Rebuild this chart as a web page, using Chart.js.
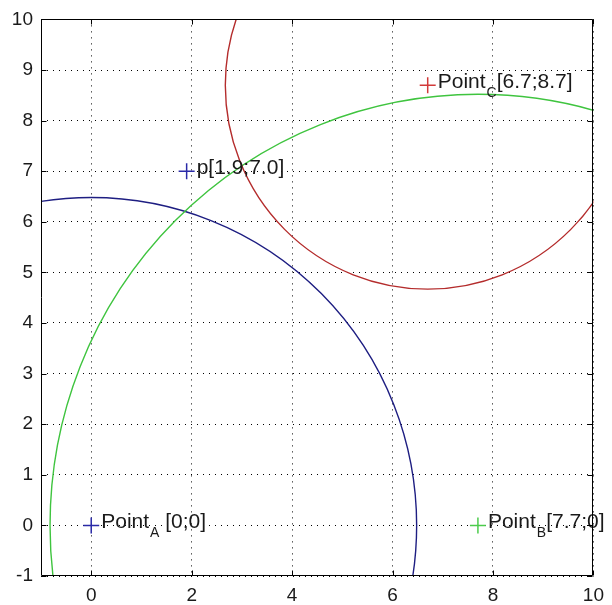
<!DOCTYPE html>
<html>
<head>
<meta charset="utf-8">
<script src="https://cdn.jsdelivr.net/npm/chart.js@4"></script>
<style>
html, body { margin: 0; padding: 0; background: #fff; }
</style>
</head>
<body>
<canvas id="chart" width="612" height="605"></canvas>
<script>
// tick labels
const xTicks = [0, 2, 4, 6, 8, 10];
const yTicks = [-1, 0, 1, 2, 3, 4, 5, 6, 7, 8, 9, 10];

// marked points
const pointX = [0, 7.7, 6.7, 1.9];
const pointY = [0, 0, 8.7, 7.0];
const pointMain = ['Point', 'Point', 'Point', 'p'];
const pointSub = ['A', 'B', 'C', ''];
const pointRest = [' [0;0]', '[7.7;0]', '[6.7;8.7]', '[1.9;7.0]'];
const pointColors = ['#2a2aa8', '#4ccc4c', '#d23a3a', '#2a2aa8'];

// range circles (centre + radius)
const circleX = [0, 7.7, 6.7];
const circleY = [0, 0, 8.7];
const circleR = [6.48, 8.52, 4.03];
const circleColors = ['#1e1e82', '#3fc43f', '#b42c2c'];

const labelFont = '21px "Liberation Sans", Arial, sans-serif';
const subFont = '14px "Liberation Sans", Arial, sans-serif';

const overlay = {
    id: 'overlay',
    beforeDatasetsDraw(chart) {
        const { ctx, chartArea: a, scales: { x, y } } = chart;
        ctx.save();
        ctx.beginPath();
        ctx.rect(a.left, a.top, a.right - a.left, a.bottom - a.top);
        ctx.clip();
        circleX.forEach((cx, i) => {
            const px = x.getPixelForValue(cx);
            const py = y.getPixelForValue(circleY[i]);
            const rx = Math.abs(x.getPixelForValue(cx + circleR[i]) - px);
            const ry = Math.abs(y.getPixelForValue(circleY[i] + circleR[i]) - py);
            ctx.beginPath();
            ctx.ellipse(px, py, rx, ry, 0, 0, Math.PI * 2);
            ctx.strokeStyle = circleColors[i];
            ctx.lineWidth = 1.4;
            ctx.stroke();
        });
        ctx.restore();
    },
    afterDatasetsDraw(chart) {
        const { ctx, scales: { x, y } } = chart;
        ctx.save();
        ctx.fillStyle = '#1a1a1a';
        ctx.textBaseline = 'alphabetic';
        ctx.textAlign = 'left';
        pointX.forEach((vx, i) => {
            let px = x.getPixelForValue(vx) + 10;
            const py = y.getPixelForValue(pointY[i]) + 3;
            ctx.font = labelFont;
            ctx.fillText(pointMain[i], px, py);
            px += ctx.measureText(pointMain[i]).width;
            if (pointSub[i]) {
                ctx.font = subFont;
                ctx.fillText(pointSub[i], px + 1, py + 9);
                px += ctx.measureText(pointSub[i]).width + 1;
            }
            ctx.font = labelFont;
            ctx.fillText(pointRest[i], px, py);
        });
        ctx.restore();
    },
    afterDraw(chart) {
        const { ctx, chartArea: a, scales: { x, y } } = chart;
        const l = Math.round(a.left) + 0.5, r = Math.round(a.right) - 0.5;
        const t = Math.round(a.top) + 0.5, b = Math.round(a.bottom) - 0.5;
        ctx.save();
        ctx.strokeStyle = '#000';
        ctx.lineWidth = 1;
        ctx.beginPath();
        ctx.rect(l, t, r - l, b - t);
        // inward ticks on all four sides
        xTicks.forEach(v => {
            const px = Math.round(x.getPixelForValue(v)) + 0.5;
            ctx.moveTo(px, b); ctx.lineTo(px, b - 5);
            ctx.moveTo(px, t); ctx.lineTo(px, t + 5);
        });
        yTicks.forEach(v => {
            const py = Math.round(y.getPixelForValue(v)) + 0.5;
            ctx.moveTo(l, py); ctx.lineTo(l + 5, py);
            ctx.moveTo(r, py); ctx.lineTo(r - 5, py);
        });
        ctx.stroke();
        ctx.restore();
    }
};

const datasets = pointX.map((vx, i) => ({
    data: [{ x: vx, y: pointY[i] }],
    pointStyle: 'cross',
    pointRadius: 8,
    pointBorderWidth: 1.5,
    borderColor: pointColors[i],
    backgroundColor: pointColors[i],
    showLine: false
}));

const gridOpts = { color: '#000', lineWidth: 1, drawTicks: false, borderDash: [1, 5] };
const tickFont = { family: '"Liberation Sans", Arial, sans-serif', size: 19 };

new Chart(document.getElementById('chart').getContext('2d'), {
    type: 'scatter',
    data: { datasets },
    options: {
        responsive: false,
        animation: false,
        layout: { padding: { top: 15, right: 12, left: 0, bottom: 0 } },
        plugins: { legend: { display: false }, tooltip: { enabled: false } },
        scales: {
            x: {
                type: 'linear', min: -1, max: 10,
                grid: gridOpts,
                border: { display: false, dash: [1, 5] },
                ticks: { font: tickFont, color: '#1a1a1a', padding: 8, maxRotation: 0 },
                afterBuildTicks: s => { s.ticks = xTicks.map(v => ({ value: v })); },
                afterFit: s => { s.height = 29; }
            },
            y: {
                type: 'linear', min: -1, max: 10,
                grid: gridOpts,
                border: { display: false, dash: [1, 5] },
                ticks: { font: tickFont, color: '#1a1a1a', padding: 8 },
                afterBuildTicks: s => { s.ticks = yTicks.map(v => ({ value: v })); },
                afterFit: s => { s.width = 41; }
            }
        }
    },
    plugins: [overlay]
});
</script>
</body>
</html>
